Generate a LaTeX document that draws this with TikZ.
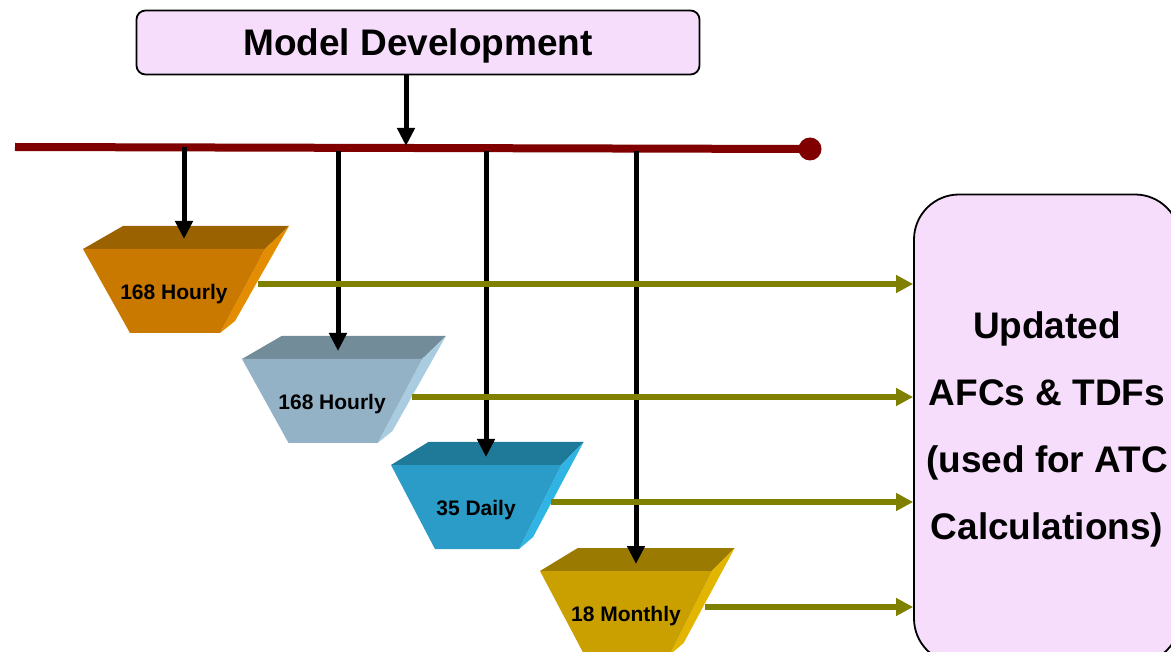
\documentclass[tikz,border=0pt]{standalone}
\usepackage{fontspec}
\setmainfont{Liberation Sans}
\usetikzlibrary{arrows.meta}
\definecolor{boxfill}{HTML}{F6DDFB}
\definecolor{busred}{HTML}{800000}
\definecolor{olivearrow}{HTML}{808000}
\definecolor{orFront}{HTML}{C97800}
\definecolor{orTop}{HTML}{9A6200}
\definecolor{orSide}{HTML}{E58D00}
\definecolor{grFront}{HTML}{94B2C6}
\definecolor{grTop}{HTML}{738C99}
\definecolor{grSide}{HTML}{A9CCE0}
\definecolor{blFront}{HTML}{2A9CC7}
\definecolor{blTop}{HTML}{1F7A99}
\definecolor{blSide}{HTML}{30B4E3}
\definecolor{goFront}{HTML}{C9A000}
\definecolor{goTop}{HTML}{9A7A00}
\definecolor{goSide}{HTML}{E2B600}
\tikzset{
  titlebox/.style={draw=black, line width=1.8pt, fill=boxfill, rounded corners=9pt,
    minimum width=563pt, minimum height=64pt, font=\fontsize{37}{40}\selectfont\bfseries},
  outbox/.style={draw=black, line width=1.8pt, fill=boxfill, rounded corners=45pt,
    minimum width=266pt, minimum height=469pt, align=center,
    font=\fontsize{37}{67}\selectfont\bfseries},
  bucketlabel/.style={inner sep=0pt, font=\fontsize{21}{24}\selectfont\bfseries},
  downarrow/.style={draw=black, line width=5pt, -{Triangle[width=17pt,length=18pt]}},
  feedarrow/.style={draw=olivearrow, line width=5.5pt, -{Triangle[width=17pt,length=17pt]}},
}
\newcommand{\mybucket}[8]{%
  \begin{scope}[shift={(#2,#3)}, xscale=#4]
    \fill[#6] (0,0) -- (40,-23) -- (206,-23) -- (182,0) -- cycle;
    \fill[#7] (182,0) -- (206,-23) -- (152,72) -- (137,84) -- cycle;
    \fill[#5] (0,0) -- (182,0) -- (137,84) -- (47,84) -- cycle;
    \node[bucketlabel] (#1) at (91,45) {#8};
  \end{scope}}
\begin{document}
\begin{tikzpicture}[x=1pt,y=-1pt]
\useasboundingbox (0,0) rectangle (1171,652);
\clip (0,0) rectangle (1171,652);
% title
\node[titlebox] (title) at (418,42.5) {\raisebox{-3.5pt}[\height][\depth]{Model Development}};
% bus line
\coordinate (busL) at (15,147);
\coordinate (busR) at (810,149);
\draw[busred, line width=8pt] (busL) -- (busR);
\fill[busred] (busR) circle (11.5pt);
% output box
\node[outbox] (out) at (1047,429) {Updated\\AFCs \& TDFs\\(used for ATC\\Calculations)};
% buckets
\mybucket{b1}{83}{249}{1}{orFront}{orTop}{orSide}{168 Hourly}
\mybucket{b2}{242}{359}{0.99}{grFront}{grTop}{grSide}{168 Hourly}
\mybucket{b3}{391}{465}{0.935}{blFront}{blTop}{blSide}{35 Daily}
\mybucket{b4}{540}{571}{0.945}{goFront}{goTop}{goSide}{18 Monthly}
% down arrows
\coordinate (s0) at (406,75);
\coordinate (e0) at (406,146);
\draw[downarrow] (s0) -- (e0);
\coordinate (s1) at (184,147);
\coordinate (e1) at (184,239);
\coordinate (s2) at (338,151);
\coordinate (e2) at (338,351);
\coordinate (s3) at (486,151);
\coordinate (e3) at (486,457);
\coordinate (s4) at (636,151);
\coordinate (e4) at (636,564);
\draw[downarrow] (s1) -- (e1);
\draw[downarrow] (s2) -- (e2);
\draw[downarrow] (s3) -- (e3);
\draw[downarrow] (s4) -- (e4);
% feed arrows
\coordinate (f1) at (258,284);
\coordinate (f2) at (412,397);
\coordinate (f3) at (551,502);
\coordinate (f4) at (705,607);
\draw[feedarrow] (f1) -- (f1 -| out.west);
\draw[feedarrow] (f2) -- (f2 -| out.west);
\draw[feedarrow] (f3) -- (f3 -| out.west);
\draw[feedarrow] (f4) -- (f4 -| out.west);
\end{tikzpicture}
\end{document}
